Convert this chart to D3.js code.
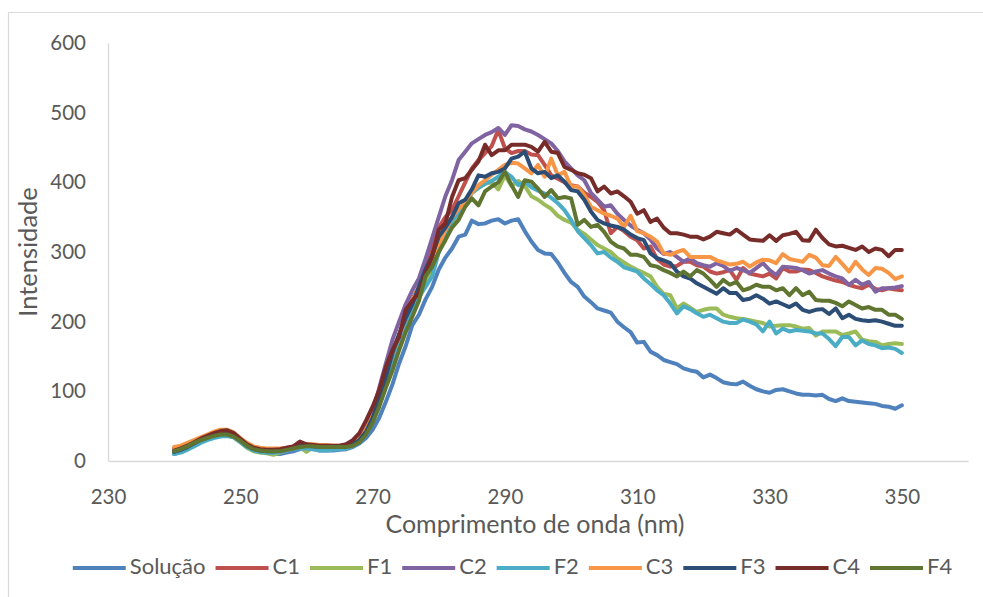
<!DOCTYPE html>
<html>
<head>
<meta charset="utf-8">
<script src="https://cdn.jsdelivr.net/npm/d3@7"></script>
<style>
  html, body { margin: 0; padding: 0; background: #fff; }
  svg { display: block; font-family: Lato, "Open Sans", sans-serif; }
</style>
</head>
<body>
<svg id="chart" width="983" height="597"></svg>
<script>
// Wavelengths (nm), one reading per nanometre
const wavelengths = d3.range(240, 351);

const xTicks = [230, 250, 270, 290, 310, 330, 350];
const yTicks = [0, 100, 200, 300, 400, 500, 600];

const seriesNames = ["Solução", "C1", "F1", "C2", "F2", "C3", "F3", "C4", "F4"];
const seriesColors = ["#4F81BD", "#C0504D", "#9BBB59", "#8064A2", "#4BACC6", "#F79646", "#2C4D75", "#772C2A", "#5F7530"];

const solucao = [
  10, 13, 18, 22, 28, 32, 35, 37, 37, 35,
  28, 22, 17, 14, 12, 10, 10, 12, 14, 17,
  18, 17, 15, 15, 15, 16, 17, 20, 25, 33,
  45, 62, 85, 110, 140, 165, 195, 210, 232, 250,
  275, 292, 305, 322, 325, 345, 340, 341, 345, 347,
  341, 345, 347, 330, 315, 303, 298, 297, 285, 270,
  257, 250, 236, 228, 219, 216, 213, 200, 192, 185,
  170, 171, 157, 152, 145, 142, 139, 133, 130, 128,
  120, 124, 119, 113, 111, 110, 114, 108, 103, 100,
  98, 102, 103, 100, 97, 95, 95, 94, 95, 89,
  86, 90, 86, 85, 84, 83, 82, 79, 78, 75,
  80
];
const c1 = [
  18, 20, 24, 28, 31, 35, 39, 41, 42, 38,
  30, 24, 19, 17, 16, 15, 15, 17, 19, 22,
  22, 22, 21, 21, 21, 21, 22, 25, 32, 45,
  65, 95, 125, 160, 180, 210, 232, 250, 280, 310,
  335, 350, 360, 380, 400, 420, 432, 442, 452, 475,
  449, 442, 445, 445, 440, 439, 425, 410, 405, 400,
  396, 394, 385, 379, 372, 360, 327, 336, 330, 322,
  317, 305, 308, 290, 282, 279, 280, 286, 286, 281,
  279, 272, 269, 271, 274, 260, 277, 269, 267, 265,
  269, 262, 277, 272, 272, 275, 274, 270, 265, 262,
  259, 257, 253, 250, 248, 253, 247, 245, 248, 246,
  245
];
const f1 = [
  12, 15, 19, 24, 28, 32, 35, 37, 37, 34,
  27, 19, 14, 12, 11, 9, 12, 15, 18, 20,
  13, 20, 19, 18, 18, 18, 19, 22, 28, 40,
  58, 85, 115, 145, 165, 195, 215, 235, 255, 275,
  300, 325, 340, 355, 370, 385, 392, 398, 400, 390,
  410, 395, 402, 395, 380, 375, 368, 362, 352, 346,
  342, 332, 326, 318, 310, 305, 300, 291, 285, 279,
  274, 270, 265, 250, 240, 238, 219, 226, 220, 214,
  217, 219, 219, 210, 207, 205, 204, 202, 200, 198,
  193, 194, 195, 195, 193, 190, 191, 180, 186, 186,
  186, 181, 183, 186, 174, 172, 171, 166, 168, 169,
  168
];
const c2 = [
  15, 18, 22, 27, 31, 34, 37, 39, 40, 37,
  30, 22, 17, 14, 13, 13, 13, 15, 17, 19,
  20, 20, 19, 19, 19, 19, 20, 23, 30, 45,
  70, 105, 140, 174, 200, 225, 245, 262, 290, 320,
  350, 380, 403, 432, 444, 456, 462, 468, 472, 478,
  468, 482, 481, 476, 473, 468, 462, 456, 445, 430,
  420, 410, 403, 385, 375, 365, 367, 355, 346, 338,
  332, 327, 318, 305, 297, 300, 293, 286, 291, 284,
  281, 279, 284, 280, 273, 277, 274, 270, 277, 284,
  274, 267, 279, 278, 277, 274, 269, 272, 274, 269,
  265, 262, 253, 260, 253, 257, 243, 248, 248, 249,
  251
];
const f2 = [
  10, 12, 16, 21, 26, 30, 33, 35, 36, 34,
  27, 20, 15, 13, 12, 12, 13, 15, 17, 18,
  18, 17, 15, 15, 16, 17, 18, 21, 27, 38,
  56, 82, 112, 140, 165, 195, 215, 235, 250, 265,
  300, 327, 345, 356, 366, 385, 392, 398, 402, 408,
  415, 408, 396, 401, 393, 388, 384, 378, 370, 360,
  346, 330, 320, 310, 298, 300, 292, 286, 278, 275,
  272, 262, 254, 245, 238, 226, 212, 222, 218, 212,
  207, 210, 205, 200, 198, 198, 203, 200, 196, 186,
  200, 183, 190, 186, 188, 187, 186, 183, 183, 175,
  165, 178, 178, 166, 173, 168, 166, 162, 163, 161,
  155
];
const c3 = [
  20, 22, 26, 30, 34, 38, 42, 45, 45, 41,
  33, 26, 21, 19, 18, 18, 18, 19, 21, 23,
  24, 24, 23, 23, 22, 22, 23, 26, 32, 45,
  65, 92, 122, 155, 180, 205, 230, 250, 265, 285,
  310, 332, 350, 362, 370, 385, 396, 403, 411, 418,
  425, 428, 427, 420, 413, 425, 408, 434, 410, 415,
  394, 394, 382, 365, 360, 355, 352, 348, 336, 352,
  330, 327, 322, 315, 298, 296, 300, 303, 293, 293,
  293, 293, 288, 285, 282, 283, 286, 279, 285, 289,
  288, 284, 297, 290, 288, 286, 296, 292, 281, 280,
  293, 283, 272, 286, 275, 267, 277, 276, 270, 261,
  265
];
const f3 = [
  13, 16, 20, 25, 30, 34, 38, 41, 41, 37,
  30, 22, 17, 15, 14, 14, 15, 17, 20, 22,
  22, 21, 20, 20, 20, 20, 21, 24, 30, 42,
  62, 90, 120, 155, 182, 205, 225, 250, 275, 295,
  322, 335, 350, 370, 375, 390, 410, 408, 413, 415,
  420, 434, 437, 444, 420, 413, 415, 406, 410, 401,
  389, 387, 375, 358, 346, 341, 338, 336, 332, 325,
  320, 317, 298, 291, 288, 284, 272, 265, 262, 255,
  250, 245, 240, 248, 241, 241, 231, 233, 238, 233,
  226, 229, 225, 221, 226, 217, 214, 217, 218, 211,
  219, 205, 210, 204, 202, 201, 202, 200, 197, 194,
  194
];
const c4 = [
  15, 18, 22, 27, 32, 36, 40, 43, 44, 40,
  32, 24, 19, 17, 16, 16, 17, 19, 21, 28,
  24, 23, 22, 22, 22, 22, 24, 30, 40, 58,
  78, 102, 135, 159, 178, 217, 230, 241, 270, 293,
  332, 341, 379, 403, 406, 418, 430, 454, 439, 446,
  446, 454, 454, 454, 451, 444, 458, 444, 442, 422,
  418, 413, 411, 406, 387, 394, 384, 387, 380, 372,
  355, 360, 343, 348, 335, 327, 327, 325, 322, 322,
  318, 322, 329, 327, 325, 332, 325, 318, 317, 316,
  324, 316, 324, 326, 329, 317, 316, 332, 320, 311,
  308, 309, 306, 303, 308, 300, 305, 303, 294, 303,
  303
];
const f4 = [
  14, 17, 21, 26, 30, 33, 36, 38, 38, 35,
  29, 22, 17, 15, 14, 14, 14, 16, 18, 20,
  21, 21, 20, 20, 20, 20, 20, 22, 27, 38,
  55, 78, 105, 130, 159, 185, 207, 230, 265, 279,
  300, 317, 335, 346, 365, 377, 367, 387, 394, 400,
  415, 396, 379, 403, 401, 391, 379, 389, 377, 379,
  377, 339, 346, 336, 339, 329, 315, 308, 305, 296,
  296, 293, 281, 279, 274, 270, 265, 272, 265, 274,
  269, 260, 250, 260, 253, 257, 245, 248, 253, 250,
  250, 245, 248, 238, 248, 238, 243, 231, 230, 230,
  227, 222, 229, 224, 219, 221, 217, 217, 210, 210,
  204
];

const seriesValues = [solucao, c1, f1, c2, f2, c3, f3, c4, f4];

const series = seriesNames.map((name, i) => ({
  name,
  color: seriesColors[i],
  points: wavelengths.map((w, j) => ({ x: w, y: seriesValues[i][j] }))
}));

const svg = d3.select("#chart");
const textColor = "#595959";
const axisColor = "#D9D9D9";

// chart frame
svg.append("path")
  .attr("d", "M8.5,597 V12.5 H983")
  .attr("fill", "none")
  .attr("stroke", axisColor)
  .attr("stroke-width", 1.2);

const x = d3.scaleLinear().domain([230, 360]).range([108, 968]);
const y = d3.scaleLinear().domain([0, 600]).range([461, 43]);

// x axis
const gx = svg.append("g")
  .attr("transform", `translate(0,${y(0)})`)
  .call(d3.axisBottom(x).tickValues(xTicks).tickSize(0).tickPadding(28).tickFormat(d3.format("d")));
gx.select(".domain").attr("stroke", axisColor).attr("stroke-width", 1.4);
gx.selectAll("text").attr("fill", textColor).style("font-size", "20.5px").style("font-family", "Lato, sans-serif");

// y axis
const gy = svg.append("g")
  .attr("transform", `translate(${x(230)},0)`)
  .call(d3.axisLeft(y).tickValues(yTicks).tickSize(0).tickPadding(22).tickFormat(d3.format("d")));
gy.select(".domain").attr("stroke", axisColor).attr("stroke-width", 1.4);
gy.selectAll("text").attr("fill", textColor).style("font-size", "20.5px").style("font-family", "Lato, sans-serif");

// axis titles
svg.append("text")
  .attr("x", 535).attr("y", 527)
  .attr("text-anchor", "middle").attr("dominant-baseline", "middle")
  .attr("fill", textColor).style("font-size", "25px")
  .text("Comprimento de onda (nm)");

svg.append("text")
  .attr("transform", "translate(31,252) rotate(-90)")
  .attr("text-anchor", "middle").attr("dominant-baseline", "middle")
  .attr("fill", textColor).style("font-size", "25.5px")
  .text("Intensidade");

// series lines
const line = d3.line().x(d => x(d.x)).y(d => y(d.y));
svg.append("g")
  .selectAll("path")
  .data(series)
  .join("path")
  .attr("d", d => line(d.points))
  .attr("fill", "none")
  .attr("stroke", d => d.color)
  .attr("stroke-width", 4)
  .attr("stroke-linejoin", "round")
  .attr("stroke-linecap", "round");

// legend
const legend = svg.append("g");
const items = legend.selectAll("g")
  .data(series)
  .join("g");
items.append("line")
  .attr("x1", 0).attr("x2", 53).attr("y1", 0).attr("y2", 0)
  .attr("stroke", d => d.color).attr("stroke-width", 4);
items.append("text")
  .attr("x", 57).attr("y", 0)
  .attr("dominant-baseline", "middle")
  .attr("fill", textColor).style("font-size", "22px")
  .text(d => d.name);
let cursor = 0;
items.each(function () {
  const g = d3.select(this);
  const w = 57 + g.select("text").node().getComputedTextLength();
  g.attr("transform", `translate(${cursor},0)`);
  cursor += w + 10;
});
const total = cursor - 10;
legend.attr("transform", `translate(${512.5 - total / 2},568)`);
</script>
</body>
</html>
